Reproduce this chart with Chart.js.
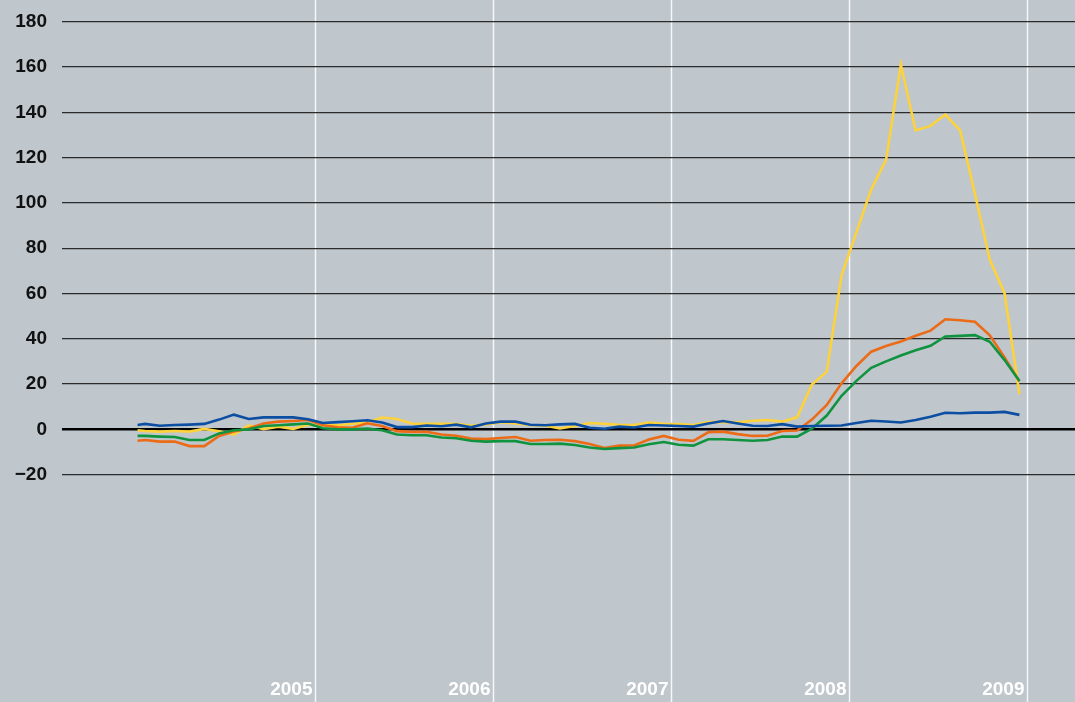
<!DOCTYPE html>
<html>
<head>
<meta charset="utf-8">
<script src="https://cdn.jsdelivr.net/npm/chart.js@4/dist/chart.umd.min.js"></script>
<style>
  html, body { margin: 0; padding: 0; background: #bfc6cc; }
  #wrap { width: 1075px; height: 702px; position: relative; }
</style>
</head>
<body>
<div id="wrap"><canvas id="chart"></canvas></div>
<script>
// month positions: 0 = Jan 2004 ... 59 = Dec 2008; traces start at the axis origin (-0.5)
const months = [-0.5].concat(Array.from({ length: 60 }, (_, i) => i));

const years = ['2005', '2006', '2007', '2008', '2009'];
const yearStarts = [11.5, 23.5, 35.5, 47.5, 59.5];
const yTicks = [-20, 0, 20, 40, 60, 80, 100, 120, 140, 160, 180];

const blue = [1.9,
    2.4, 1.6, 1.9, 2.1, 2.4, 4.3, 6.5, 4.6, 5.3, 5.3, 5.3, 4.5,
    2.8, 3.2, 3.6, 4.0, 3.0, 1.0, 1.0, 1.7, 1.4, 2.1, 0.9, 2.6,
    3.4, 3.4, 2.0, 1.8, 2.2, 2.4, 0.7, 0.3, 1.2, 0.8, 1.9, 1.7,
    1.5, 1.2, 2.6, 3.7, 2.6, 1.6, 1.5, 2.3, 1.2, 1.5, 1.6, 1.7,
    2.8, 3.8, 3.5, 3.0, 4.1, 5.6, 7.3, 7.1, 7.4, 7.4, 7.7, 6.4];

const yellow = [-0.4,
    -0.7, -1.0, -0.7, -1.0, 0.2, -0.8, -2.3, 1.8, 0.1, 1.2, 0.2, 2.0,
    1.8, 1.8, 2.5, 3.0, 5.2, 4.6, 2.6, 2.4, 2.4, 2.5, 1.6, 2.2,
    3.2, 2.6, 1.9, 1.6, 0.4, 1.5, 2.8, 2.5, 2.0, 1.9, 3.0, 2.5,
    2.3, 1.9, 3.2, 3.2, 3.1, 3.8, 4.1, 3.4, 5.3, 19.8, 25.5, 68,
    87, 106, 119, 161, 132, 134, 139, 132, 104, 75, 60, 15.6];

const orange = [-5.0,
    -4.7, -5.4, -5.4, -7.4, -7.4, -2.9, -0.9, 0.4, 2.6, 3.4, 3.7, 4.1,
    1.8, 0.9, 0.7, 2.7, 1.5, -0.8, -1.1, -1.1, -2.3, -2.8, -4.1, -4.3,
    -3.8, -3.4, -5.0, -4.7, -4.6, -5.2, -6.5, -8.2, -7.2, -7.1, -4.5, -2.9,
    -4.6, -5.1, -1.3, -1.0, -2.1, -2.9, -2.8, -0.7, -0.5, 4.3, 10.8, 20.3,
    28.0, 34.3, 36.8, 38.8, 41.3, 43.6, 48.6, 48.2, 47.5, 41.5, 31.8, 21.2];

const green = [-2.9,
    -2.9, -3.2, -3.4, -4.7, -4.7, -1.8, -0.4, 0.0, 1.5, 1.8, 2.2, 2.6,
    0.5, 0.0, 0.0, 0.3, -0.4, -2.3, -2.6, -2.6, -3.6, -3.9, -5.0, -5.4,
    -5.2, -5.2, -6.5, -6.5, -6.3, -6.9, -8.0, -8.7, -8.3, -8.0, -6.6, -5.6,
    -6.8, -7.2, -4.4, -4.4, -4.7, -5.0, -4.7, -3.2, -3.2, 0.3, 6.1, 14.8,
    21.4, 27.2, 30.0, 32.6, 34.9, 36.9, 41.0, 41.3, 41.6, 38.7, 30.6, 21.3];

function pts(values) {
    return values.map((v, i) => ({ x: months[i], y: v }));
}

function line(data, color) {
    return {
        data: pts(data),
        borderColor: color,
        borderWidth: 2.6,
        pointRadius: 0,
        tension: 0,
        fill: false
    };
}

// white year separators + year labels, drawn under the grid
const yearPlugin = {
    id: 'years',
    beforeDraw(chart) {
        const ctx = chart.ctx;
        const xs = chart.scales.x;
        ctx.save();
        ctx.strokeStyle = 'rgba(255,255,255,0.85)';
        ctx.lineWidth = 1.5;
        ctx.fillStyle = '#ffffff';
        ctx.font = "bold 19px 'Liberation Sans', Arial, sans-serif";
        ctx.textAlign = 'right';
        ctx.textBaseline = 'alphabetic';
        yearStarts.forEach((m, i) => {
            const px = Math.round(xs.getPixelForValue(m)) + 0.5;
            ctx.beginPath();
            ctx.moveTo(px, 0);
            ctx.lineTo(px, chart.height);
            ctx.stroke();
            ctx.fillText(years[i], px - 3, 695);
        });
        ctx.restore();
    }
};

new Chart(document.getElementById('chart'), {
    type: 'line',
    data: {
        datasets: [
            line(blue, '#0b4ea2'),
            line(green, '#10933f'),
            line(orange, '#ec6b17'),
            line(yellow, '#fdd23a')
        ]
    },
    options: {
        responsive: true,
        maintainAspectRatio: false,
        animation: false,
        layout: { padding: 0 },
        plugins: { legend: { display: false }, tooltip: { enabled: false } },
        scales: {
            x: {
                type: 'linear',
                min: -5.6,
                max: 62.75,
                display: false
            },
            y: {
                min: -120.4,
                max: 189.6,
                afterBuildTicks: s => { s.ticks = yTicks.map(v => ({ value: v })); },
                afterFit: s => { s.width = 62; s.paddingTop = 0; s.paddingBottom = 0; },
                border: { display: false },
                grid: {
                    drawTicks: false,
                    color: c => c.tick.value === 0 ? '#000000' : '#2b2b2b',
                    lineWidth: c => c.tick.value === 0 ? 2.5 : 1.2
                },
                ticks: {
                    padding: 15,
                    color: '#111111',
                    font: { family: "'Liberation Sans', Arial, sans-serif", size: 19, weight: 'bold' },
                    callback: v => v < 0 ? '\u2212' + Math.abs(v) : String(v)
                }
            }
        }
    },
    plugins: [yearPlugin]
});
</script>
</body>
</html>
